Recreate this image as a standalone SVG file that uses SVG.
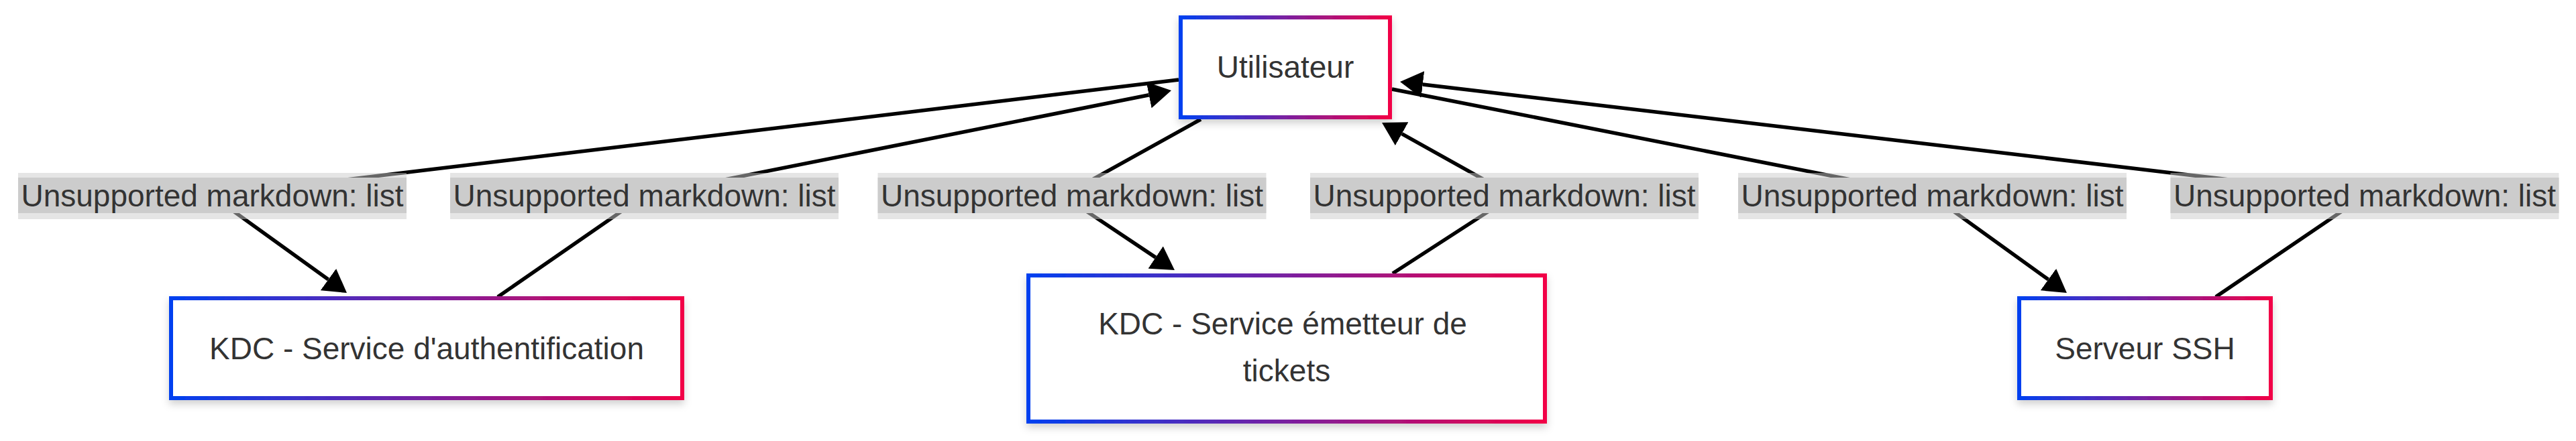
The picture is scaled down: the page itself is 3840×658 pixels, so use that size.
<svg xmlns="http://www.w3.org/2000/svg" width="3840" height="658" viewBox="0 0 3840 658">
<defs>
<linearGradient id="g" x1="0" y1="0" x2="1" y2="0">
<stop offset="0" stop-color="#0040f0"/>
<stop offset="0.5" stop-color="#7a20a0"/>
<stop offset="1" stop-color="#f20046"/>
</linearGradient>
<filter id="sh" x="-10%" y="-20%" width="120%" height="150%">
<feDropShadow dx="0" dy="6" stdDeviation="6" flood-color="#000" flood-opacity="0.18"/>
</filter>
<marker id="arr" viewBox="0 0 10 10" refX="0" refY="5" markerWidth="34" markerHeight="40" markerUnits="userSpaceOnUse" orient="auto" preserveAspectRatio="none">
<path d="M0,0 L10,5 L0,10 z" fill="#000"/>
</marker>
</defs>
<style>
.node rect{fill:#fff;stroke:url(#g);stroke-width:6;filter:url(#sh)}
.t{font-family:"Liberation Sans",Arial,sans-serif;font-size:46px;fill:#333;text-anchor:middle}
.edge{fill:none;stroke:#000;stroke-width:5.5;stroke-linejoin:round;marker-end:url(#arr)}
.lbo{fill:#ccc;opacity:.5}
.lbi{fill:#ccc}
</style>
<rect width="3840" height="658" fill="#fff"/>
<g id="connectors">
<path class="edge" d="M1757,119 L316,292 L489.4,417.1"/>
<path class="edge" d="M742,443 L960,292 L1712.7,141.7"/>
<path class="edge" d="M1790,178 L1585,292 L1722.7,384.1"/>
<path class="edge" d="M2076,408 L2255,292 L2089.7,199.6"/>
<path class="edge" d="M2075,133 L2880,292 L3053.4,417.1"/>
<path class="edge" d="M3303,443 L3525,292 L2120.8,126"/>
</g>
<g id="edge-labels">
<g id="label1"><rect class="lbo" x="27" y="258" width="579" height="69"/><rect class="lbi" x="27" y="265" width="579" height="53"/><text class="t" x="316.5" y="308">Unsupported markdown: list</text></g>
<g id="label2"><rect class="lbo" x="671" y="258" width="579" height="69"/><rect class="lbi" x="671" y="265" width="579" height="53"/><text class="t" x="960.5" y="308">Unsupported markdown: list</text></g>
<g id="label3"><rect class="lbo" x="1308.5" y="258" width="579" height="69"/><rect class="lbi" x="1308.5" y="265" width="579" height="53"/><text class="t" x="1598" y="308">Unsupported markdown: list</text></g>
<g id="label4"><rect class="lbo" x="1953" y="258" width="579" height="69"/><rect class="lbi" x="1953" y="265" width="579" height="53"/><text class="t" x="2242.5" y="308">Unsupported markdown: list</text></g>
<g id="label5"><rect class="lbo" x="2591" y="258" width="579" height="69"/><rect class="lbi" x="2591" y="265" width="579" height="53"/><text class="t" x="2880.5" y="308">Unsupported markdown: list</text></g>
<g id="label6"><rect class="lbo" x="3235.5" y="258" width="579" height="69"/><rect class="lbi" x="3235.5" y="265" width="579" height="53"/><text class="t" x="3525" y="308">Unsupported markdown: list</text></g>
</g>
<g id="utilisateur" class="node"><rect x="1760" y="26" width="312" height="149"/><text class="t" x="1916" y="116">Utilisateur</text></g>
<g id="kdc-as" class="node"><rect x="255" y="445" width="762" height="149"/><text class="t" x="636" y="536">KDC - Service d'authentification</text></g>
<g id="kdc-tgs" class="node"><rect x="1533" y="411" width="770" height="218"/><text class="t" x="1912" y="499">KDC - Service émetteur de</text><text class="t" x="1918" y="569">tickets</text></g>
<g id="ssh" class="node"><rect x="3010" y="445" width="375" height="149"/><text class="t" x="3197.5" y="536">Serveur SSH</text></g>
</svg>
